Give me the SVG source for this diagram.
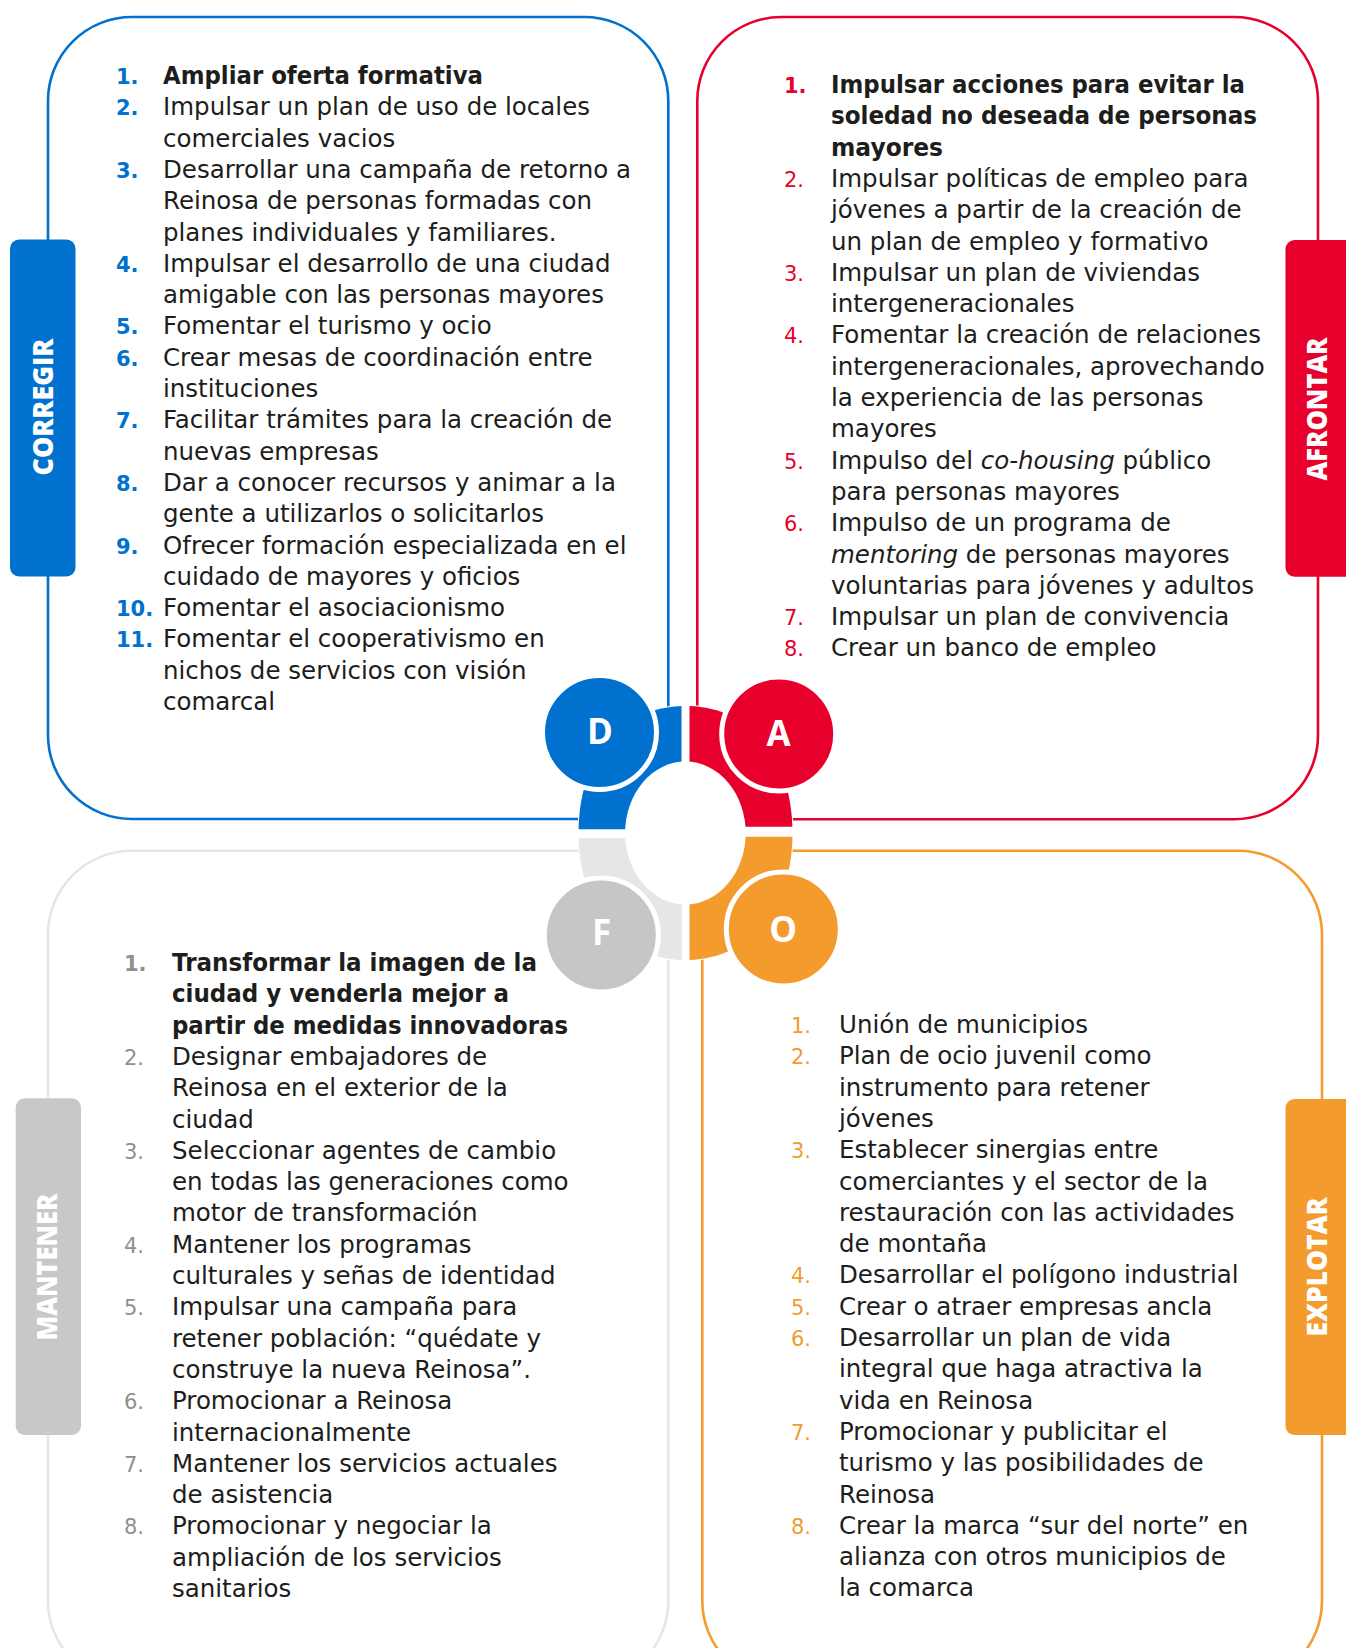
<svg xmlns="http://www.w3.org/2000/svg" xmlns:xlink="http://www.w3.org/1999/xlink" width="1346" height="1648" viewBox="0 0 1346 1648">
<defs>
<style>
.box{fill:none;stroke-width:2.6}
.t{font-family:"DejaVu Sans","Open Sans",sans-serif;font-size:24.5px;fill:#1d1d1b}
.b{font-weight:700;font-size:24px}
.i{font-style:italic}
.n{font-family:"DejaVu Sans","Open Sans",sans-serif;font-size:21px}
.nb{font-weight:700}
.nl{font-weight:400}
.tab{font-family:"Open Sans","Liberation Sans",sans-serif;font-size:29px;font-weight:800;fill:#ffffff}
.lt{font-family:"Open Sans","Liberation Sans",sans-serif;font-size:35px;font-weight:700;fill:#ffffff}
.blue{fill:#0071ce}.red{fill:#e8002d}.gray{fill:#8f8f8f}.orange{fill:#f39b2d}
</style>
<path id="outer" d="M685.5,706 C749.7,706 792.5,756.8 792.5,833 C792.5,909.2 749.7,960 685.5,960 C621.3,960 578.5,909.2 578.5,833 C578.5,756.8 621.3,706 685.5,706 Z"/>
<clipPath id="cTL"><rect x="560" y="690" width="121.5" height="139.3"/></clipPath>
<clipPath id="cTR"><rect x="689.5" y="690" width="120" height="136.7"/></clipPath>
<clipPath id="cBL"><rect x="560" y="838.3" width="121.7" height="140"/></clipPath>
<clipPath id="cBR"><rect x="689.5" y="836.7" width="120" height="140"/></clipPath>
</defs>
<rect width="1346" height="1648" fill="#ffffff"/>

<g id="box-d">
<rect class="box" x="48" y="17" width="620.3" height="802" rx="84" stroke="#0071ce"/>
<text class="n nb blue" x="116" y="84">1.</text><text class="t b" x="163" y="84" textLength="320" lengthAdjust="spacingAndGlyphs">Ampliar oferta formativa</text>
<text class="n nb blue" x="116" y="115.3">2.</text><text class="t" x="163" y="115.3">Impulsar un plan de uso de locales</text>
<text class="t" x="163" y="146.6">comerciales vacios</text>
<text class="n nb blue" x="116" y="177.9">3.</text><text class="t" x="163" y="177.9">Desarrollar una campaña de retorno a</text>
<text class="t" x="163" y="209.2">Reinosa de personas formadas con</text>
<text class="t" x="163" y="240.5">planes individuales y familiares.</text>
<text class="n nb blue" x="116" y="271.8">4.</text><text class="t" x="163" y="271.8">Impulsar el desarrollo de una ciudad</text>
<text class="t" x="163" y="303.1">amigable con las personas mayores</text>
<text class="n nb blue" x="116" y="334.4">5.</text><text class="t" x="163" y="334.4">Fomentar el turismo y ocio</text>
<text class="n nb blue" x="116" y="365.7">6.</text><text class="t" x="163" y="365.7">Crear mesas de coordinación entre</text>
<text class="t" x="163" y="397">instituciones</text>
<text class="n nb blue" x="116" y="428.3">7.</text><text class="t" x="163" y="428.3">Facilitar trámites para la creación de</text>
<text class="t" x="163" y="459.6">nuevas empresas</text>
<text class="n nb blue" x="116" y="490.9">8.</text><text class="t" x="163" y="490.9">Dar a conocer recursos y animar a la</text>
<text class="t" x="163" y="522.2">gente a utilizarlos o solicitarlos</text>
<text class="n nb blue" x="116" y="553.5">9.</text><text class="t" x="163" y="553.5">Ofrecer formación especializada en el</text>
<text class="t" x="163" y="584.8">cuidado de mayores y oficios</text>
<text class="n nb blue" x="116" y="616.1">10.</text><text class="t" x="163" y="616.1">Fomentar el asociacionismo</text>
<text class="n nb blue" x="116" y="647.4">11.</text><text class="t" x="163" y="647.4">Fomentar el cooperativismo en</text>
<text class="t" x="163" y="678.7">nichos de servicios con visión</text>
<text class="t" x="163" y="710">comarcal</text>
</g>

<g id="box-a">
<rect class="box" x="697.3" y="17" width="620.7" height="802.3" rx="84" stroke="#e8002d"/>
<text class="n nb red" x="784" y="93">1.</text><text class="t b" x="831" y="93" textLength="414" lengthAdjust="spacingAndGlyphs">Impulsar acciones para evitar la</text>
<text class="t b" x="831" y="124.3" textLength="426" lengthAdjust="spacingAndGlyphs">soledad no deseada de personas</text>
<text class="t b" x="831" y="155.6" textLength="112" lengthAdjust="spacingAndGlyphs">mayores</text>
<text class="n nl red" x="784" y="186.9">2.</text><text class="t" x="831" y="186.9">Impulsar políticas de empleo para</text>
<text class="t" x="831" y="218.2">jóvenes a partir de la creación de</text>
<text class="t" x="831" y="249.5">un plan de empleo y formativo</text>
<text class="n nl red" x="784" y="280.8">3.</text><text class="t" x="831" y="280.8">Impulsar un plan de viviendas</text>
<text class="t" x="831" y="312.1">intergeneracionales</text>
<text class="n nl red" x="784" y="343.4">4.</text><text class="t" x="831" y="343.4">Fomentar la creación de relaciones</text>
<text class="t" x="831" y="374.7">intergeneracionales, aprovechando</text>
<text class="t" x="831" y="406">la experiencia de las personas</text>
<text class="t" x="831" y="437.3">mayores</text>
<text class="n nl red" x="784" y="468.6">5.</text><text class="t" x="831" y="468.6">Impulso del <tspan class="i">co-housing</tspan> público</text>
<text class="t" x="831" y="499.9">para personas mayores</text>
<text class="n nl red" x="784" y="531.2">6.</text><text class="t" x="831" y="531.2">Impulso de un programa de</text>
<text class="t" x="831" y="562.5"><tspan class="i">mentoring</tspan> de personas mayores</text>
<text class="t" x="831" y="593.8">voluntarias para jóvenes y adultos</text>
<text class="n nl red" x="784" y="625.1">7.</text><text class="t" x="831" y="625.1">Impulsar un plan de convivencia</text>
<text class="n nl red" x="784" y="656.4">8.</text><text class="t" x="831" y="656.4">Crear un banco de empleo</text>
</g>

<g id="box-f">
<rect class="box" x="48" y="850.7" width="620.3" height="834" rx="84" stroke="#e6e6e6"/>
<text class="n nb gray" x="124" y="971">1.</text><text class="t b" x="172" y="971" textLength="365" lengthAdjust="spacingAndGlyphs">Transformar la imagen de la</text>
<text class="t b" x="172" y="1002.3" textLength="337" lengthAdjust="spacingAndGlyphs">ciudad y venderla mejor a</text>
<text class="t b" x="172" y="1033.6" textLength="396" lengthAdjust="spacingAndGlyphs">partir de medidas innovadoras</text>
<text class="n nl gray" x="124" y="1064.9">2.</text><text class="t" x="172" y="1064.9">Designar embajadores de</text>
<text class="t" x="172" y="1096.2">Reinosa en el exterior de la</text>
<text class="t" x="172" y="1127.5">ciudad</text>
<text class="n nl gray" x="124" y="1158.8">3.</text><text class="t" x="172" y="1158.8">Seleccionar agentes de cambio</text>
<text class="t" x="172" y="1190.1">en todas las generaciones como</text>
<text class="t" x="172" y="1221.4">motor de transformación</text>
<text class="n nl gray" x="124" y="1252.7">4.</text><text class="t" x="172" y="1252.7">Mantener los programas</text>
<text class="t" x="172" y="1284">culturales y señas de identidad</text>
<text class="n nl gray" x="124" y="1315.3">5.</text><text class="t" x="172" y="1315.3">Impulsar una campaña para</text>
<text class="t" x="172" y="1346.6">retener población: “quédate y</text>
<text class="t" x="172" y="1377.9">construye la nueva Reinosa”.</text>
<text class="n nl gray" x="124" y="1409.2">6.</text><text class="t" x="172" y="1409.2">Promocionar a Reinosa</text>
<text class="t" x="172" y="1440.5">internacionalmente</text>
<text class="n nl gray" x="124" y="1471.8">7.</text><text class="t" x="172" y="1471.8">Mantener los servicios actuales</text>
<text class="t" x="172" y="1503.1">de asistencia</text>
<text class="n nl gray" x="124" y="1534.4">8.</text><text class="t" x="172" y="1534.4">Promocionar y negociar la</text>
<text class="t" x="172" y="1565.7">ampliación de los servicios</text>
<text class="t" x="172" y="1597">sanitarios</text>
</g>

<g id="box-o">
<rect class="box" x="702.3" y="850.7" width="619.7" height="834" rx="84" stroke="#f39b2d"/>
<text class="n nl orange" x="791" y="1033">1.</text><text class="t" x="839" y="1033">Unión de municipios</text>
<text class="n nl orange" x="791" y="1064.3">2.</text><text class="t" x="839" y="1064.3">Plan de ocio juvenil como</text>
<text class="t" x="839" y="1095.6">instrumento para retener</text>
<text class="t" x="839" y="1126.9">jóvenes</text>
<text class="n nl orange" x="791" y="1158.2">3.</text><text class="t" x="839" y="1158.2">Establecer sinergias entre</text>
<text class="t" x="839" y="1189.5">comerciantes y el sector de la</text>
<text class="t" x="839" y="1220.8">restauración con las actividades</text>
<text class="t" x="839" y="1252.1">de montaña</text>
<text class="n nl orange" x="791" y="1283.4">4.</text><text class="t" x="839" y="1283.4">Desarrollar el polígono industrial</text>
<text class="n nl orange" x="791" y="1314.7">5.</text><text class="t" x="839" y="1314.7">Crear o atraer empresas ancla</text>
<text class="n nl orange" x="791" y="1346">6.</text><text class="t" x="839" y="1346">Desarrollar un plan de vida</text>
<text class="t" x="839" y="1377.3">integral que haga atractiva la</text>
<text class="t" x="839" y="1408.6">vida en Reinosa</text>
<text class="n nl orange" x="791" y="1439.9">7.</text><text class="t" x="839" y="1439.9">Promocionar y publicitar el</text>
<text class="t" x="839" y="1471.2">turismo y las posibilidades de</text>
<text class="t" x="839" y="1502.5">Reinosa</text>
<text class="n nl orange" x="791" y="1533.8">8.</text><text class="t" x="839" y="1533.8">Crear la marca “sur del norte” en</text>
<text class="t" x="839" y="1565.1">alianza con otros municipios de</text>
<text class="t" x="839" y="1596.4">la comarca</text>
</g>

<g id="tab-corregir">
<rect x="10" y="239.5" width="65.5" height="337" rx="9" fill="#0071ce"/>
<text class="tab" transform="translate(52.5,407) rotate(-90)" text-anchor="middle" textLength="137" lengthAdjust="spacingAndGlyphs">CORREGIR</text>
</g>
<g id="tab-afrontar">
<rect x="1285.5" y="240" width="80" height="336.7" rx="9" fill="#e8002d"/>
<text class="tab" transform="translate(1327.3,409) rotate(-90)" text-anchor="middle" textLength="143" lengthAdjust="spacingAndGlyphs">AFRONTAR</text>
</g>
<g id="tab-mantener">
<rect x="15.7" y="1098.3" width="65.3" height="336.7" rx="9" fill="#c8c8c8"/>
<text class="tab" transform="translate(56.7,1267) rotate(-90)" text-anchor="middle" textLength="147" lengthAdjust="spacingAndGlyphs">MANTENER</text>
</g>
<g id="tab-explotar">
<rect x="1285.5" y="1099" width="80" height="336" rx="9" fill="#f39b2d"/>
<text class="tab" transform="translate(1327.3,1267) rotate(-90)" text-anchor="middle" textLength="139" lengthAdjust="spacingAndGlyphs">EXPLOTAR</text>
</g>

<g id="connectors">
<use href="#outer" fill="#ffffff" stroke="#ffffff" stroke-width="2"/>
<use href="#outer" fill="#0071ce" clip-path="url(#cTL)"/>
<use href="#outer" fill="#e8002d" clip-path="url(#cTR)"/>
<use href="#outer" fill="#e6e6e6" clip-path="url(#cBL)"/>
<use href="#outer" fill="#f39b2d" clip-path="url(#cBR)"/>
<ellipse cx="685.4" cy="833" rx="60.3" ry="71.5" fill="#ffffff"/>
</g>

<g id="node-d">
<circle cx="599.5" cy="732.5" r="57" fill="#0071ce" stroke="#ffffff" stroke-width="5"/>
<text class="lt" x="600" y="744" text-anchor="middle">D</text>
</g>
<g id="node-a">
<circle cx="778.7" cy="734" r="57" fill="#e8002d" stroke="#ffffff" stroke-width="5"/>
<text class="lt" x="778.7" y="745.5" text-anchor="middle">A</text>
</g>
<g id="node-f">
<circle cx="601.3" cy="935" r="57" fill="#c6c6c6" stroke="#ffffff" stroke-width="5"/>
<text class="lt" x="601.7" y="944.5" text-anchor="middle">F</text>
</g>
<g id="node-o">
<circle cx="783.3" cy="929" r="57" fill="#f39b2d" stroke="#ffffff" stroke-width="5"/>
<text class="lt" x="783.3" y="941.5" text-anchor="middle">O</text>
</g>
</svg>
